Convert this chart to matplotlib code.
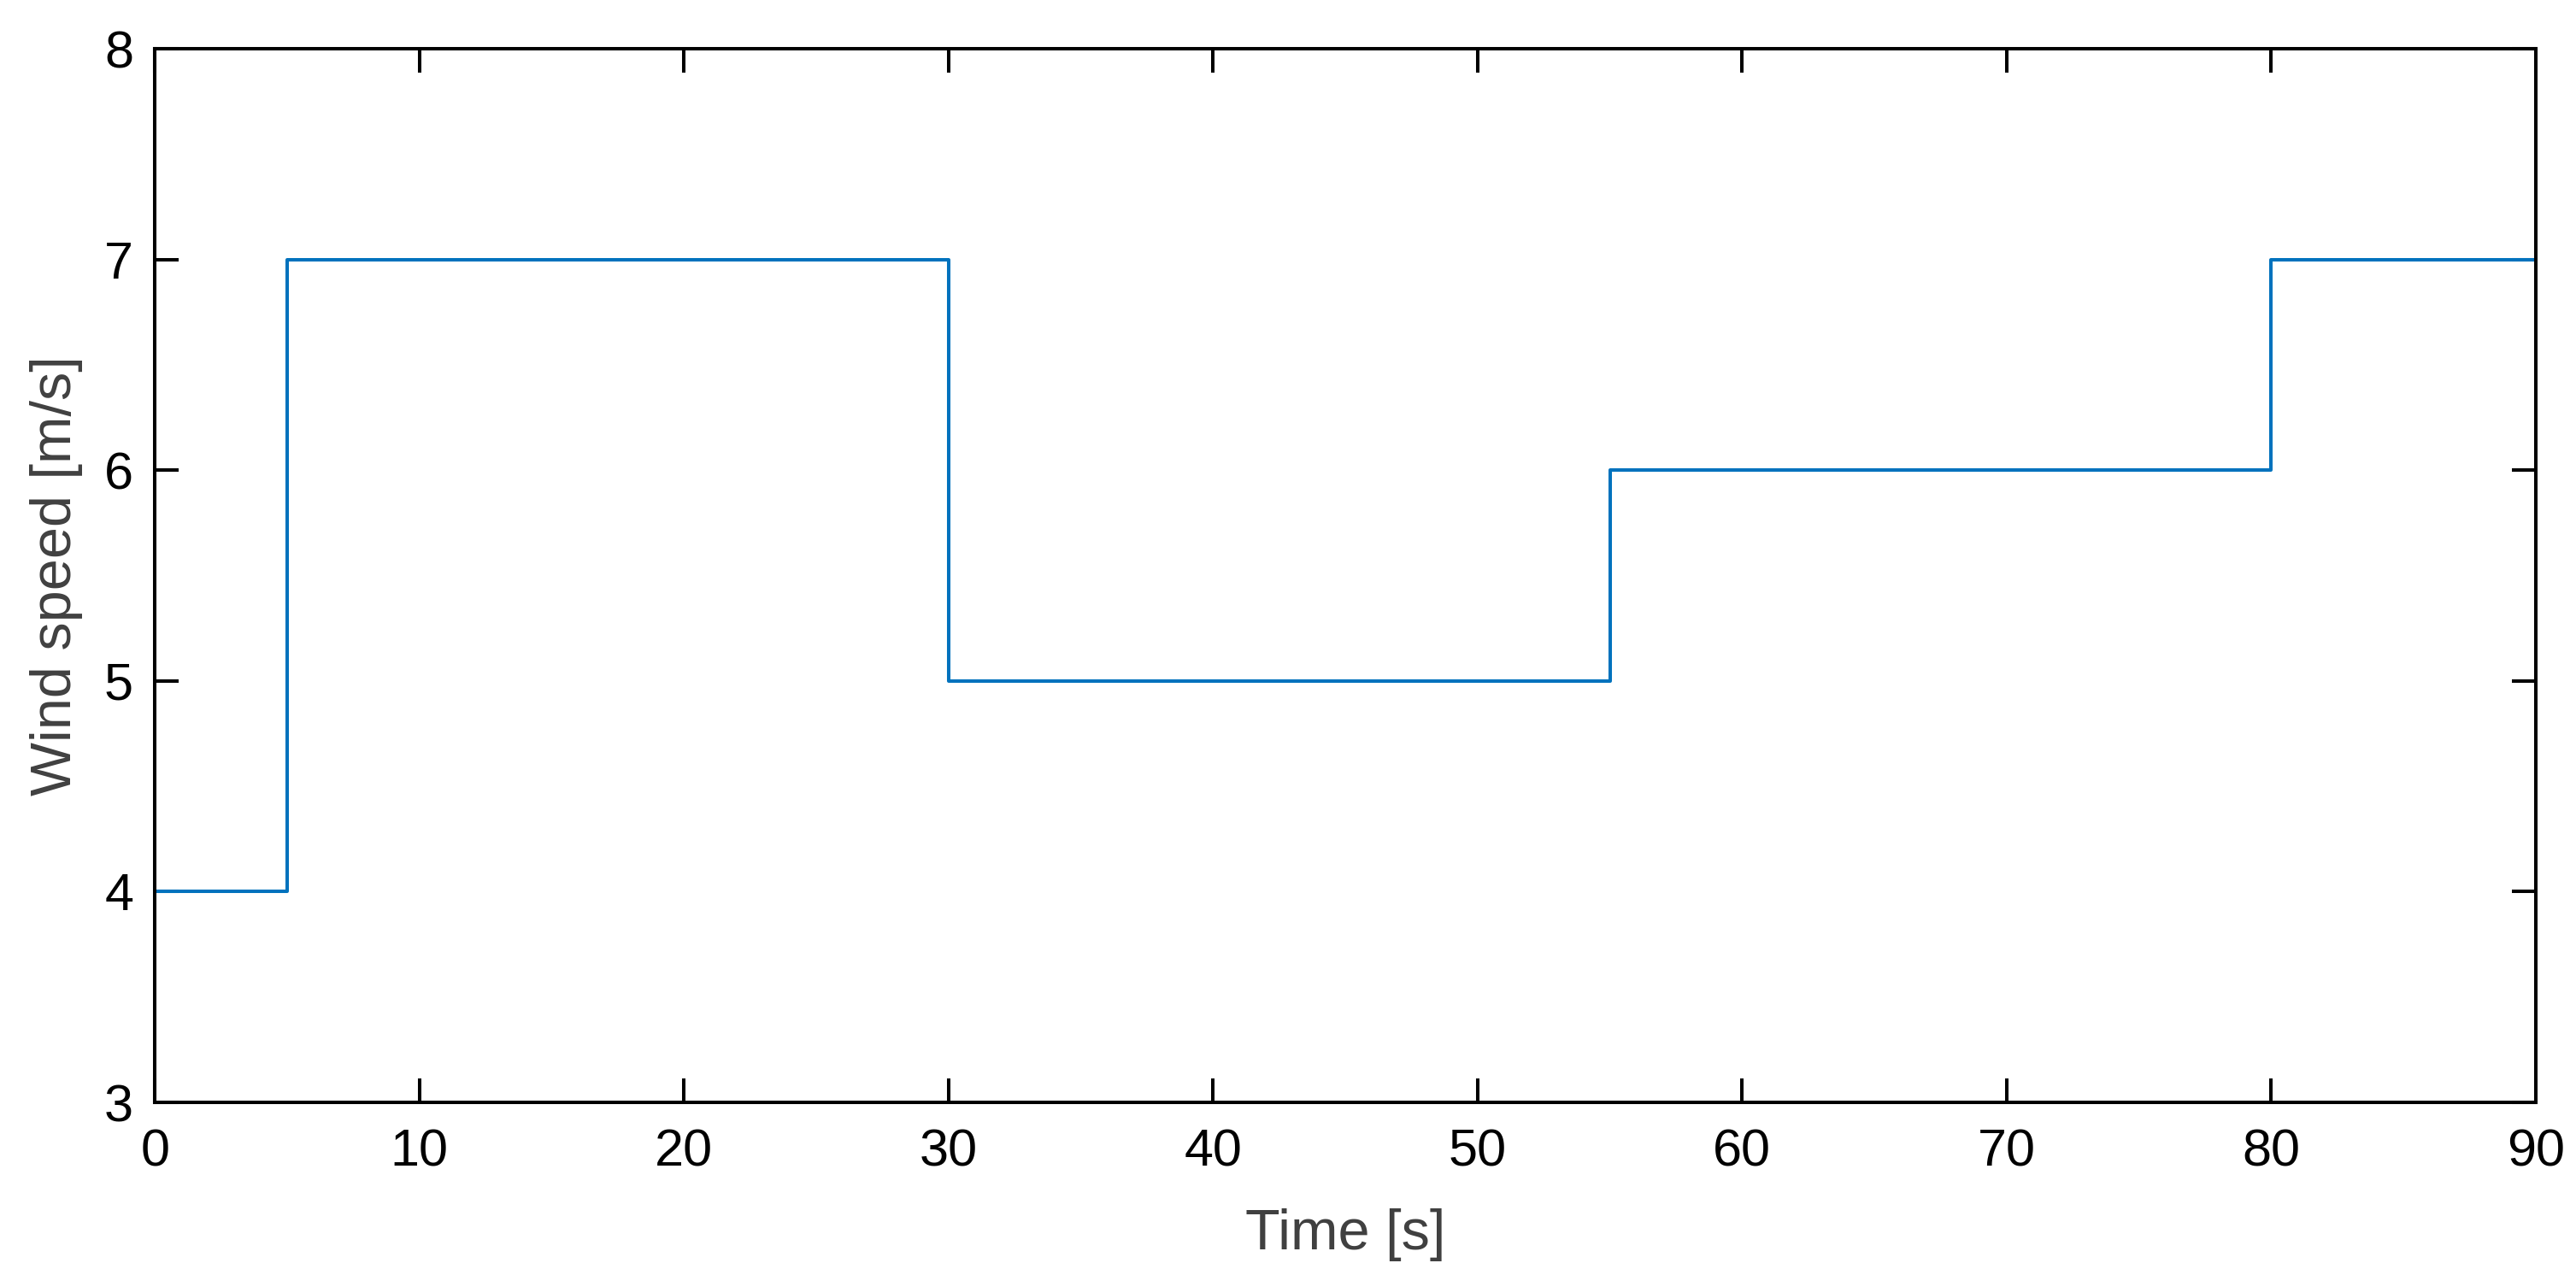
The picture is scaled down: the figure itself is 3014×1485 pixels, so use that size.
import matplotlib
matplotlib.use('Agg')
from matplotlib import pyplot as plt

# wind speed steps
t_steps = [0, 5, 30, 55, 80, 90]
wind_speed = [4, 7, 5, 6, 7, 7]

x_ticks = [0, 10, 20, 30, 40, 50, 60, 70, 80, 90]
y_ticks = [3, 4, 5, 6, 7, 8]

plt.rcParams['font.family'] = ['Liberation Sans', 'DejaVu Sans']

fig = plt.figure(figsize=(15.07, 7.425), dpi=200)
ax = fig.add_axes([0.0601, 0.1313, 0.9243, 0.8303])

ax.plot(t_steps, wind_speed, drawstyle='steps-post', color='#0072BD', linewidth=1.45)

ax.set_xlim(0, 90)
ax.set_ylim(3, 8)
ax.set_xticks(x_ticks)
ax.set_yticks(y_ticks)

for s in ax.spines.values():
    s.set_linewidth(1.45)
ax.tick_params(direction='in', length=10, width=1.45, labelsize=22,
               top=True, right=True, colors='black')
ax.tick_params(axis='x', pad=11)
ax.tick_params(axis='y', pad=9)

ax.set_xlabel('Time [s]', fontsize=24, color='#404040', labelpad=13)
ax.set_ylabel('Wind speed [m/s]', fontsize=24, color='#404040', labelpad=9)

fig.savefig('out.png', dpi=200)
